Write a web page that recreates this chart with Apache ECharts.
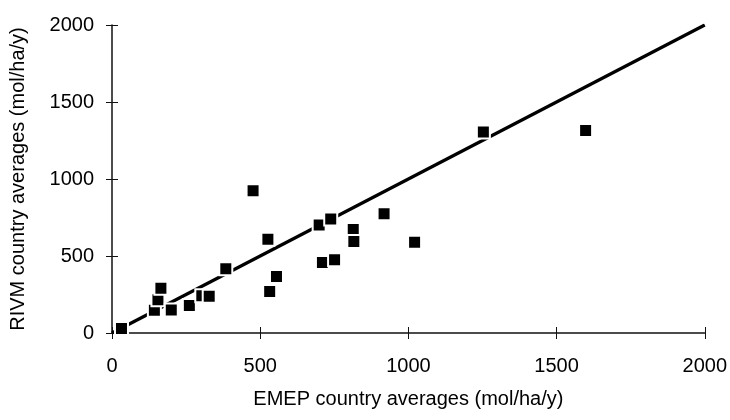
<!DOCTYPE html>
<html>
<head>
<meta charset="utf-8">
<script src="https://cdn.jsdelivr.net/npm/echarts@6/dist/echarts.min.js"></script>
<style>html,body{margin:0;padding:0;background:#fff}#c{width:730px;height:420px}</style>
</head>
<body>
<div id="c"></div>
<script>
const emepX = [32, 143, 155, 165, 200, 261, 303, 328, 384, 476, 526, 532, 555, 699, 738, 710, 751, 814, 816, 918, 1021, 1253, 1598];
const rivmY = [30, 147, 216, 290, 150, 178, 242, 238, 418, 924, 609, 270, 367, 702, 741, 458, 475, 672, 594, 774, 590, 1305, 1315];
const lineX = [0, 2000];
const lineY = [0, 2000];
const tickValues = [0, 500, 1000, 1500, 2000];

const points = emepX.map((x, i) => [x, rivmY[i]]);
const linePts = lineX.map((x, i) => [x, lineY[i]]);
const font = 'Liberation Sans, Arial, Helvetica, sans-serif';
const fmt = v => String(v);

const chart = echarts.init(document.getElementById('c'), null, {renderer: 'canvas'});
const baseAxis = {
  type: 'value', min: tickValues[0], max: tickValues[tickValues.length - 1], interval: 500,
  splitLine: {show: false}
};
const hiddenLine = {show: true, onZero: false, lineStyle: {color: 'rgba(0,0,0,0)', width: 0}};
chart.setOption({
  animation: false,
  backgroundColor: '#fff',
  grid: {left: 108, right: 25, top: 25, bottom: 87, containLabel: false},
  xAxis: [
    Object.assign({}, baseAxis, {
      position: 'bottom',
      name: 'EMEP country averages (mol/ha/y)',
      nameLocation: 'middle', nameGap: 56,
      nameTextStyle: {fontFamily: font, fontSize: 20, color: '#000'},
      axisLine: {show: true, onZero: false, lineStyle: {color: '#111', width: 1.5}},
      axisTick: {show: true, inside: false, length: 6, lineStyle: {color: '#111', width: 1}},
      axisLabel: {fontFamily: font, fontSize: 20, color: '#000', margin: 23, formatter: fmt}
    }),
    Object.assign({}, baseAxis, {
      position: 'bottom', offset: 0,
      axisLine: hiddenLine,
      axisTick: {show: true, inside: true, length: 6, lineStyle: {color: '#111', width: 1}},
      axisLabel: {show: false}
    })
  ],
  yAxis: [
    Object.assign({}, baseAxis, {
      position: 'left',
      name: 'RIVM country averages (mol/ha/y)',
      nameLocation: 'middle', nameGap: 84,
      nameTextStyle: {fontFamily: font, fontSize: 20, color: '#000'},
      axisLine: {show: true, onZero: false, lineStyle: {color: '#111', width: 1.5}},
      axisTick: {show: true, inside: false, length: 6, lineStyle: {color: '#111', width: 1}},
      axisLabel: {fontFamily: font, fontSize: 20, color: '#000', margin: 18, formatter: fmt}
    }),
    Object.assign({}, baseAxis, {
      position: 'left', offset: 0,
      axisLine: hiddenLine,
      axisTick: {show: true, inside: true, length: 6, lineStyle: {color: '#111', width: 1}},
      axisLabel: {show: false}
    })
  ],
  series: [
    {
      type: 'line', data: linePts, xAxisIndex: 0, yAxisIndex: 0,
      symbol: 'none', lineStyle: {color: '#000', width: 3.2}, z: 2, silent: true
    },
    {
      type: 'scatter', data: points, xAxisIndex: 0, yAxisIndex: 0,
      symbol: 'rect', symbolSize: 13,
      itemStyle: {color: '#000', borderColor: '#fff', borderWidth: 2, opacity: 1}, z: 3
    }
  ]
});
</script>
</body>
</html>
